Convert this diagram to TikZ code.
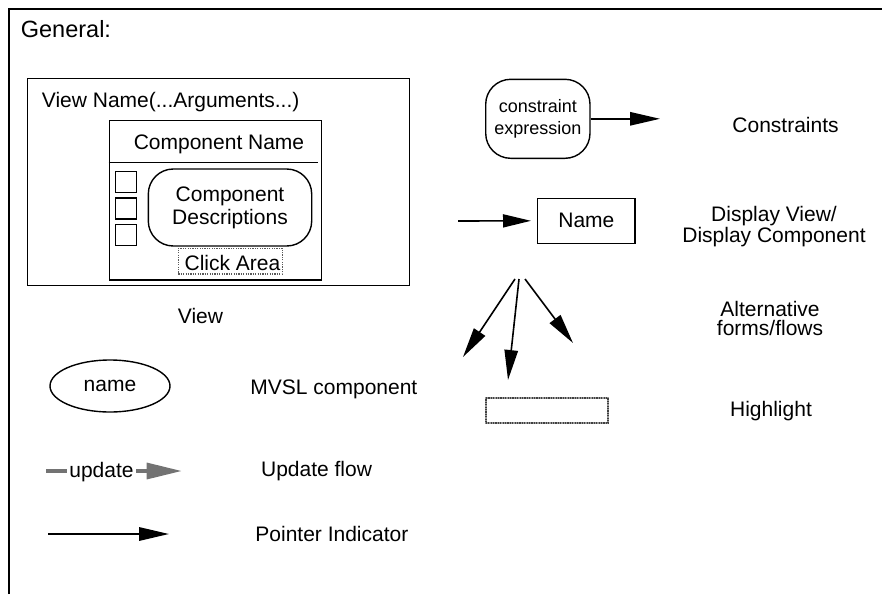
\documentclass[tikz,border=0pt]{standalone}
\usepackage{fontspec}
\setmainfont{Liberation Sans}
\usetikzlibrary{arrows.meta,shapes.geometric}
\begin{document}
\begin{tikzpicture}[x=0.5pt,y=-0.5pt,
  txt/.style={inner sep=0pt, font=\fontsize{10.5pt}{12.6pt}\selectfont},
  box/.style={draw, line width=0.7pt, inner sep=0pt},
  ptr/.style={line width=0.8pt, -{Triangle[length=15pt,width=6.7pt]}},
  hl/.style={draw=black!75, line width=0.6pt, dash pattern=on 0.6pt off 0.6pt, inner sep=0pt},
  upd/.style={draw=black!55, line width=1.6pt},
]
\useasboundingbox (0,0) rectangle (882,594);
\draw[line width=1pt] (8.5,594) -- (8.5,8.5) -- (882,8.5);
\node[txt,anchor=base west, font=\fontsize{11.75pt}{14pt}\selectfont] (gen) at (20.5,37.7) {General:};

% View example
\node[box, minimum width=191pt, minimum height=103.7pt] (view) at (218.3,182) {};
\node[txt,anchor=base west] (vname) at (41.5,107.3) {View Name(...Arguments...)};
\node[box, minimum width=106.2pt, minimum height=79.65pt] (comp) at (215.5,200.35) {};
\node[txt,anchor=base] (cname) at (219,149) {Component Name};
\draw[line width=0.7pt] (comp.west |- 0,162.7) coordinate (dl) -- (317.7,162.7) coordinate (dr);
\node[box, minimum width=10.5pt, minimum height=10.5pt] (sq1) at (126.2,182) {};
\node[box, minimum width=10.5pt, minimum height=10.5pt] (sq2) at (126.2,208.6) {};
\node[box, minimum width=10.5pt, minimum height=10.5pt] (sq3) at (126.2,235) {};
\node[box, rounded corners=12.5pt, minimum width=81.7pt, minimum height=38.5pt, align=center,
      font=\fontsize{10.5pt}{11.65pt}\selectfont] (cdesc) at (230,207.5) {Component\\Descriptions};
\node[hl, draw=black!65, minimum width=52pt, minimum height=12.85pt] (click) at (230.3,261.15) {};
\node[txt,anchor=base] (clickt) at (232.5,270) {Click Area};
\node[txt,anchor=base] (viewl) at (200.5,323.3) {View};

% MVSL component
\node[box, ellipse, minimum width=60pt, minimum height=26pt, font=\fontsize{10.5pt}{12.6pt}\selectfont] (ell) at (110,386) {name};
\node[txt,anchor=base west] (mvsl) at (250,394) {MVSL component};

% Update flow
\node[txt,anchor=base, inner xsep=1pt] (updt) at (101.5,477) {update};
\coordinate (u0) at (46,471);
\coordinate (u1) at (181.7,471);
\draw[upd] (u0) -- (updt.west |- u0);
\draw[upd, -{Triangle[length=17.5pt,width=8pt]}] (updt.east |- u0) -- (u1);
\node[txt,anchor=base west] (updl) at (260.7,476) {Update flow};

% Pointer indicator
\coordinate (p0) at (48,534);
\coordinate (p1) at (169,534);
\draw[ptr, line width=1pt] (p0) -- (p1);
\node[txt,anchor=base west] (ptrl) at (255,541) {Pointer Indicator};

% Constraints
\node[box, rounded corners=12.5pt, minimum width=52.15pt, minimum height=39.5pt, align=center,
      font=\fontsize{9pt}{10.85pt}\selectfont] (cbox) at (537.85,118.8) {constraint\\expression};
\coordinate (c1) at (660,118.8);
\draw[ptr] (cbox.east) -- (c1);
\node[txt,anchor=base west] (consl) at (732,132.7) {Constraints};

% Display view
\node[box, minimum width=48.65pt, minimum height=22.5pt, font=\fontsize{10.5pt}{12.6pt}\selectfont] (nbox) at (586.35,220.8) {Name};
\coordinate (n0) at (458,221);
\draw[line width=0.8pt, -{Triangle[length=14pt,width=6.5pt]}, shorten >=3pt] (n0) -- (nbox.west);
\node[txt, align=center, font=\fontsize{10.5pt}{9.2pt}\selectfont] (displ) at (774,226.4) {Display View/\\Display Component};

% Alternatives
\coordinate (a0) at (515,279);
\coordinate (b0) at (519,279);
\coordinate (c0) at (525,279);
\coordinate (a1) at (463,357);
\coordinate (b1) at (508,380);
\coordinate (cc1) at (573,343);
\draw[ptr] (a0) -- (a1);
\draw[ptr] (b0) -- (b1);
\draw[ptr] (c0) -- (cc1);
\node[txt, align=center, font=\fontsize{10.5pt}{9.5pt}\selectfont] (altl) at (770,318) {Alternative\\forms/flows};

% Highlight
\node[hl, line width=1.1pt, preaction={draw=black!40, line width=1.1pt, solid}, minimum width=61.3pt, minimum height=12.5pt] (hlbox) at (547,410.8) {};
\node[txt,anchor=base] (hll) at (771,416.7) {Highlight};
\end{tikzpicture}
\end{document}
